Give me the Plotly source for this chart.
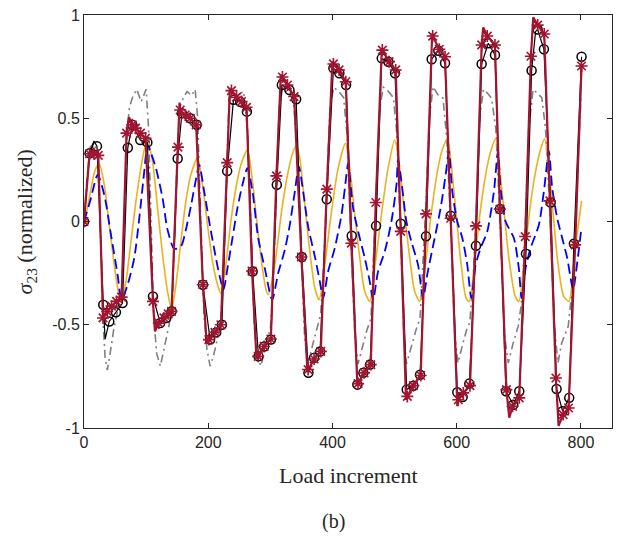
import plotly.graph_objects as go

# ---- data ----
red_marker_x = [0, 9.0, 16.1, 23.0, 30.6, 37.5, 44.4, 52.4, 60.5, 68.5, 77.7, 83.0, 91.0, 99.1,
                111.0, 120.6, 128.7, 135.6, 140.9, 151.2, 154.9, 162.9, 171.0, 180.6, 191.4, 201.0,
                210.7, 220.4, 230.5, 237.4, 245.5, 253.5, 261.6, 270.5, 280.4, 290.0, 300.8, 309.8,
                319.5, 327.5, 338.3, 350.0, 360.8, 370.4, 381.2, 390.9, 401.5, 410.6, 421.4, 430.4,
                441.2, 450.9, 461.6, 469.7, 480.3, 491.1, 501.8, 509.9, 520.5, 530.2, 542.0, 550.6,
                561.3, 572.0, 581.2, 590.3, 602.6, 610.6, 621.4, 631.0, 640.2, 649.2, 661.6, 669.6,
                680.0, 690.0, 700.7, 710.3, 719.5, 730.3, 740.9, 750.0, 759.7, 771.4, 780.1, 790.7, 801.0]
red_marker_y = [0, 0.328, 0.328, 0.32, -0.467, -0.435, -0.41, -0.387, -0.366, 0.428, 0.468, 0.452, 0.428, 0.403,
                -0.387, -0.492, -0.467, -0.447, -0.435, 0.36, 0.54, 0.516, 0.50, 0.468, -0.306, -0.572,
                -0.537, -0.50, 0.285, 0.634, 0.602, 0.581, 0.553, -0.24, -0.653, -0.605, -0.569, 0.221,
                0.70, 0.661, 0.605, -0.172, -0.717, -0.666, -0.629, 0.157, 0.763, 0.734, 0.677, -0.105,
                -0.785, -0.733, -0.693, 0.092, 0.83, 0.774, 0.734, -0.048, -0.847, -0.795, -0.746, 0.037,
                0.898, 0.834, 0.798, 0.016, -0.863, -0.83, -0.795, -0.021, 0.855, 0.898, 0.855, 0.06,
                -0.814, -0.895, -0.854, -0.073, 0.80, 0.951, 0.908, 0.10, -0.758, -0.935, -0.903, -0.113, 0.753]

red_apex_x = [12, 72.4, 114.2, 153.8, 197.5, 234.8, 277.6, 316.9, 359.7, 399.9, 440.1, 479.5,
              518.4, 560.5, 601.0, 642.7, 684.6, 723.2, 764.0]
red_apex_y = [0.34, 0.505, -0.532, 0.576, -0.59, 0.645, -0.661, 0.71, -0.728, 0.774, -0.79, 0.84,
              -0.863, 0.91, -0.895, 0.94, -0.95, 0.989, -0.99]

black_x = [0, 9.0, 20.9, 31.0, 40.7, 51.4, 62.0, 70.5, 77.7, 90.6, 102.0, 111.0, 122.7, 132.4, 141.2,
           150.8, 157.6, 171.0, 181.5, 191.4, 203.0, 212.8, 222.0, 230.5, 240.6, 251.4, 262.2, 271.5,
           280.9, 290.0, 300.8, 310.4, 318.5, 330.7, 341.5, 350.6, 361.3, 370.4, 380.0, 390.8, 401.5,
           411.1, 421.9, 431.0, 440.1, 449.7, 460.5, 470.2, 479.3, 490.0, 500.7, 509.9, 519.5, 530.2,
           541.0, 550.6, 559.7, 570.4, 581.2, 590.3, 601.0, 609.6, 620.3, 631.0, 640.2, 650.8, 661.6,
           669.6, 679.3, 691.0, 700.7, 711.5, 720.6, 730.3, 740.4, 751.2, 760.8, 770.5, 781.1, 788.6, 801.0]
black_y = [0, 0.33, 0.365, -0.403, -0.484, -0.44, -0.395, 0.357, 0.468, 0.395, 0.383, -0.363, -0.492, -0.467, -0.435,
           0.305, 0.524, 0.50, 0.468, -0.306, -0.572, -0.537, -0.50, 0.244, 0.589, 0.58, 0.532, -0.242,
           -0.653, -0.605, -0.572, 0.178, 0.661, 0.637, 0.592, -0.172, -0.733, -0.66, -0.63, 0.108, 0.742,
           0.718, 0.661, -0.069, -0.79, -0.733, -0.693, -0.021, 0.79, 0.774, 0.718, -0.011, -0.814, -0.795,
           -0.742, -0.072, 0.786, 0.827, 0.766, 0.028, -0.827, -0.85, -0.785, -0.118, 0.763, 0.863, 0.806,
           0.06, -0.822, -0.887, -0.822, -0.156, 0.731, 0.93, 0.834, 0.092, -0.811, -0.919, -0.854, -0.108, 0.798]
black_apex_x = [16, 34, 727]
black_apex_y = [0.39, -0.57, 0.92]

gray_x = [0, 5, 10, 17, 23, 27, 31, 34, 37.5, 42, 48, 55, 61, 65, 69, 73, 78, 85, 92, 100, 104, 108, 112, 117,
          123, 130, 137, 142, 147, 151, 155, 160, 166, 173, 179, 183, 188, 193, 198, 203, 208.5, 214, 220,
          225, 229, 233, 238, 247, 257, 263, 268, 274, 279, 285, 292, 300, 305, 309, 314, 320, 328, 337,
          343, 349, 355, 360, 368, 375, 381, 386, 390, 396, 402, 410, 418, 424, 430, 436, 441, 449, 456,
          462, 466, 470, 476, 482, 490, 498, 503, 509, 515, 519, 527, 535, 541, 546, 550, 556, 562, 570,
          578, 584, 590, 597, 602, 610, 616, 621, 626, 631, 637, 643, 650, 656, 663, 669, 677, 683, 691,
          699, 704, 710, 716, 723, 730, 737, 743, 750, 757, 763, 769, 779.5, 785, 791, 796, 800]
gray_y = [0, 0.22, 0.36, 0.38, 0.3, -0.1, -0.5, -0.66, -0.72, -0.64, -0.52, -0.42, -0.32, 0.0, 0.42, 0.55,
          0.6, 0.64, 0.58, 0.64, 0.45, 0.0, -0.45, -0.64, -0.70, -0.6, -0.5, -0.4, 0.0, 0.4, 0.56, 0.6,
          0.63, 0.61, 0.64, 0.5, 0.0, -0.45, -0.62, -0.70, -0.65, -0.57, -0.5, -0.2, 0.2, 0.55, 0.63, 0.61,
          0.63, 0.45, 0.05, -0.5, -0.66, -0.70, -0.6, -0.52, -0.3, 0.1, 0.55, 0.65, 0.62, 0.6, 0.35, -0.1,
          -0.55, -0.69, -0.6, -0.52, -0.45, -0.2, 0.1, 0.55, 0.65, 0.63, 0.6, 0.4, -0.1, -0.55, -0.69, -0.6,
          -0.52, -0.47, -0.2, 0.1, 0.55, 0.65, 0.63, 0.6, 0.45, 0.0, -0.55, -0.69, -0.6, -0.52, -0.47, -0.2,
          0.05, 0.5, 0.653, 0.613, 0.597, 0.4, 0.0, -0.55, -0.685, -0.59, -0.524, -0.49, -0.3, 0.0, 0.5,
          0.64, 0.62, 0.597, 0.45, 0.05, -0.55, -0.685, -0.588, -0.508, -0.4, -0.05, 0.45, 0.64, 0.62, 0.6,
          0.45, 0.05, -0.5, -0.685, -0.588, -0.508, -0.35, -0.1, 0.35, 0.6]

orange_x = [0, 5, 12, 18, 24.6, 32.7, 40.7, 48.7, 55.2, 59.5, 67.5, 75.6, 83.6, 91.6, 97, 102.4, 110.4,
            118.4, 126.5, 134.5, 141, 148, 156, 164, 172, 182.8, 190.8, 198.9, 206.9, 215, 220.3, 228.4,
            236.4, 244.5, 252.5, 263.2, 271, 279, 287, 293, 296.5, 307.2, 318, 328.7, 336.7, 342, 347.4,
            355.5, 363.5, 371.6, 378.5, 387.6, 398.4, 409.1, 420.9, 427.9, 435.9, 444, 452, 460, 468,
            478.8, 489.5, 500.2, 508.3, 516.3, 524.4, 532.4, 540.5, 550, 559, 570, 577, 585, 595.6, 606,
            615, 620, 630.5, 638.6, 646.6, 654.6, 662.7, 673, 684, 694, 700, 710, 718, 726, 734, 741.5,
            752, 762, 772, 780.6, 790, 801]
orange_y = [0, 0.06, 0.17, 0.25, 0.278, 0.178, -0.016, -0.21, -0.339, -0.387, -0.29, -0.097, 0.097, 0.258,
            0.347, 0.39, 0.29, 0.065, -0.161, -0.339, -0.427, -0.306, -0.097, 0.097, 0.226, 0.31, 0.178,
            -0.016, -0.193, -0.306, -0.347, -0.21, 0.0, 0.161, 0.274, 0.347, 0.2, -0.02, -0.22, -0.33,
            -0.355, -0.21, 0.048, 0.242, 0.339, 0.368, 0.307, 0.081, -0.145, -0.322, -0.379, -0.21, 0.048,
            0.258, 0.379, 0.258, 0.032, -0.177, -0.339, -0.387, -0.226, 0.032, 0.258, 0.395, 0.258, 0.032,
            -0.177, -0.339, -0.387, -0.2, 0.04, 0.26, 0.35, 0.40, 0.145, -0.177, -0.37, -0.387, -0.145,
            0.065, 0.226, 0.339, 0.40, 0.145, -0.177, -0.36, -0.387, -0.145, 0.065, 0.226, 0.339, 0.40,
            0.145, -0.177, -0.36, -0.387, -0.15, 0.10]

blue_x = [0, 10, 22, 32.6, 43.4, 54.1, 60.5, 70.2, 80.9, 89, 97, 102.4, 108, 115.8, 126.5, 134.5, 145.3,
          156, 164, 172, 180, 185.5, 193.5, 201.6, 212.3, 220.3, 224.6, 231, 239, 247, 255, 263, 271.3,
          280.4, 291, 302.9, 312.6, 323.3, 331.3, 339.4, 345.8, 352.8, 360.8, 371.6, 379.6, 385, 393,
          403.7, 414.5, 422.5, 425.2, 433.2, 441.3, 452, 460, 465.4, 473.4, 484.2, 494.9, 503, 505.6, 511,
          519, 527, 537.8, 545.8, 553, 563.4, 574.1, 582.2, 587.5, 592.9, 600.9, 609, 617, 623.5, 630.4,
          638.5, 649.2, 659.9, 666.4, 670.6, 678.7, 692, 700, 704.4, 710.9, 718.9, 732.3, 740.3, 748.4,
          753.8, 761.8, 769.8, 777.9, 784.3, 787.5, 794, 800]
blue_y = [0, 0.1, 0.226, 0.13, -0.064, -0.258, -0.379, -0.306, -0.177, 0.016, 0.242, 0.371, 0.33, 0.258,
          0.113, -0.04, -0.132, -0.121, -0.04, 0.073, 0.2, 0.274, 0.145, 0.0, -0.177, -0.29, -0.33, -0.226,
          -0.08, 0.065, 0.177, 0.258, 0.145, -0.08, -0.226, -0.379, -0.25, -0.137, -0.016, 0.145, 0.266,
          0.145, -0.024, -0.169, -0.29, -0.371, -0.242, -0.129, 0.032, 0.226, 0.282, 0.065, -0.048, -0.177,
          -0.29, -0.379, -0.242, -0.145, 0.0, 0.177, 0.3, 0.194, 0.0, -0.097, -0.21, -0.371, -0.25, -0.097,
          0.065, 0.226, 0.339, 0.145, 0.0, -0.08, -0.21, -0.371, -0.21, -0.129, -0.048, 0.145, 0.339, 0.161,
          0.0, -0.08, -0.226, -0.371, -0.226, -0.129, -0.016, 0.145, 0.339, 0.161, 0.016, -0.08, -0.177,
          -0.29, -0.33, -0.2, -0.05]

x_tick_vals = [0, 200, 400, 600, 800]
x_tick_text = ["0", "200", "400", "600", "800"]
y_tick_vals = [-1, -0.5, 0, 0.5, 1]
y_tick_text = ["-1", "-0.5", "0", "0.5", "1"]

# ---- build merged line paths ----
red_pts = sorted(zip(red_marker_x + red_apex_x, red_marker_y + red_apex_y))
red_line_x = [p[0] for p in red_pts]
red_line_y = [p[1] for p in red_pts]
blk_pts = sorted(zip(black_x + black_apex_x, black_y + black_apex_y))
black_line_x = [p[0] for p in blk_pts]
black_line_y = [p[1] for p in blk_pts]

RED = "#A2142F"
fig = go.Figure()
fig.add_trace(go.Scatter(x=gray_x, y=gray_y, mode="lines",
                         line=dict(color="#808080", width=1.6, dash="8px,4px,2px,4px")))
fig.add_trace(go.Scatter(x=orange_x, y=orange_y, mode="lines",
                         line=dict(color="#EDB120", width=1.6, shape="spline", smoothing=0.7)))
fig.add_trace(go.Scatter(x=blue_x, y=blue_y, mode="lines",
                         line=dict(color="#0000FF", width=1.8, dash="10px,5px", shape="spline", smoothing=0.7)))
fig.add_trace(go.Scatter(x=black_line_x, y=black_line_y, mode="lines",
                         line=dict(color="black", width=1.2)))
fig.add_trace(go.Scatter(x=black_x, y=black_y, mode="markers",
                         marker=dict(symbol="circle-open", size=9, color="black", line=dict(width=1.5))))
fig.add_trace(go.Scatter(x=red_line_x, y=red_line_y, mode="lines",
                         line=dict(color=RED, width=2.2)))
fig.add_trace(go.Scatter(x=red_marker_x, y=red_marker_y, mode="markers",
                         marker=dict(symbol="asterisk-open", size=10, color=RED, line=dict(width=1.6, color=RED))))

axis_common = dict(showline=True, linecolor="#262626", linewidth=1, mirror="ticks",
                   ticks="inside", ticklen=5, tickcolor="#262626", showgrid=False, zeroline=False,
                   tickfont=dict(family="Liberation Sans, Arial, sans-serif", size=16, color="#262626"))
fig.update_layout(
    width=617, height=536,
    margin=dict(l=84, r=5, t=15, b=108),
    paper_bgcolor="white", plot_bgcolor="white",
    showlegend=False,
    xaxis=dict(range=[0, 850], tickvals=x_tick_vals, ticktext=x_tick_text, **axis_common),
    yaxis=dict(range=[-1, 1], tickvals=y_tick_vals, ticktext=y_tick_text, **axis_common),
    annotations=[
        dict(text="Load increment", xref="paper", yref="paper", x=0.5, y=-0.115,
             xanchor="center", yanchor="middle", showarrow=False,
             font=dict(family="Liberation Serif, serif", size=22, color="#262626")),
        dict(text="<i>σ</i><sub>23</sub> (normalized)", xref="paper", yref="paper", x=-0.11, y=0.5,
             xanchor="center", yanchor="middle", textangle=-90, showarrow=False,
             font=dict(family="Liberation Serif, serif", size=22, color="#262626")),
        dict(text="(b)", xref="paper", yref="paper", x=0.472, y=-0.226,
             xanchor="center", yanchor="middle", showarrow=False,
             font=dict(family="Liberation Serif, serif", size=20, color="#262626")),
    ],
)
fig.write_html("out.html")
